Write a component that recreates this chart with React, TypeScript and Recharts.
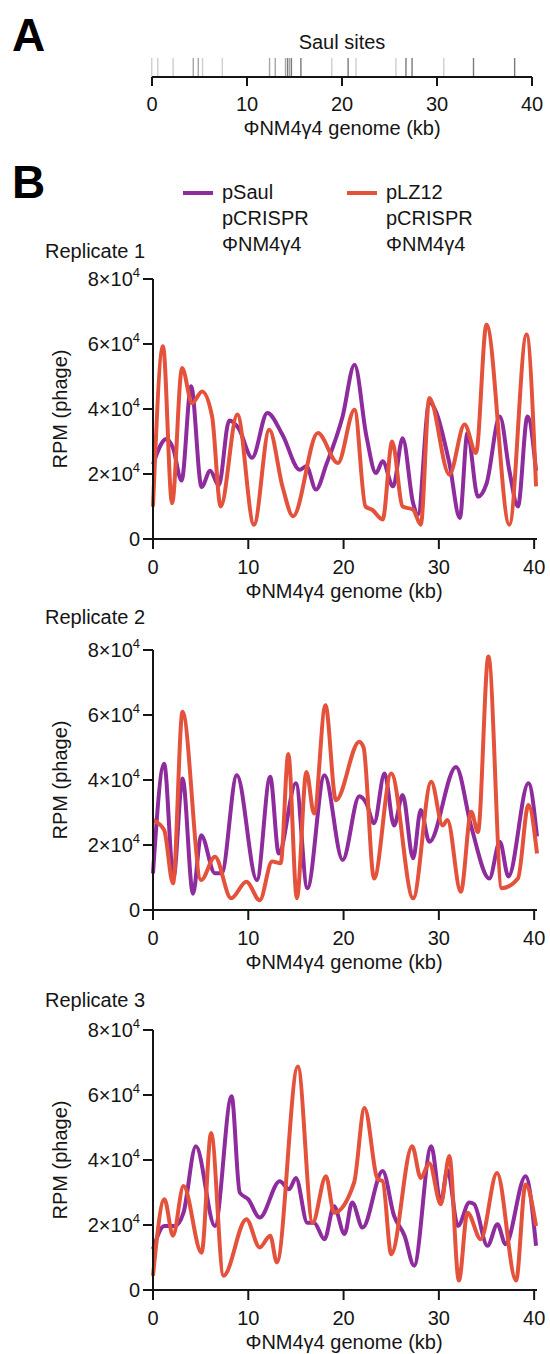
import React from 'react';
import { LineChart, Line, XAxis, YAxis, BarChart, Bar, Cell } from 'recharts';

// Saul target sites along the phage genome (kb) and how dark each mark is drawn (1 light .. 3 dark)
const siteKb = [0, 0.63, 2.25, 4.37, 4.9, 5.35, 7.43, 12.4, 13.0, 14.08, 14.3, 14.5, 14.7, 15.7, 18.95, 20.67, 21.5, 25.7, 26.76, 27.4, 30.74, 33.87, 38.2];
const siteWeight = [1, 1, 1, 2, 2, 1, 1, 2, 2, 2, 3, 2, 3, 3, 1, 3, 1, 1, 3, 3, 1, 3, 3];

const genomeTicks = [0, 10, 20, 30, 40];
const rpmTicks = [0, 20000, 40000, 60000, 80000];

// [kb, RPM]
const rep1Saul = [
  [0, 23000], [1.4, 30800], [2.1, 28000], [3.0, 18000], [4.0, 47000], [5.1, 16000], [6.0, 21000], [6.9, 16500],
  [8.0, 36500], [9.0, 34000], [10.4, 25000], [12.0, 38800], [13.6, 32000], [15.4, 21300], [16.1, 22400], [17.1, 15200],
  [18.2, 23000], [19.9, 37700], [21.15, 53600], [22.4, 31600], [23.4, 20300], [24.1, 23900], [25.2, 16200], [26.2, 31000],
  [27.3, 11000], [27.8, 7500], [29.0, 42000], [31.1, 23400], [32.2, 6500], [33.0, 32600], [34.1, 13000], [35.0, 17000],
  [36.4, 37700], [37.4, 21000], [38.3, 10000], [39.3, 37700], [40.2, 21000],
];
const rep1Lz = [
  [0, 10000], [1.05, 59300], [2.0, 11000], [3.05, 52600], [4.1, 41800], [5.15, 45400], [6.2, 37700], [7.1, 10000],
  [8.85, 38300], [10.6, 4400], [12.2, 33600], [13.6, 16000], [14.7, 7000], [17.3, 32600], [19.4, 23400], [21.15, 39800],
  [22.3, 10000], [23.0, 9000], [24.1, 6000], [25.1, 30000], [26.2, 10000], [27.3, 9000], [28.1, 4400], [29.0, 43400],
  [31.1, 19800], [32.7, 35200], [33.9, 26500], [35.0, 66000], [37.4, 4400], [39.2, 62900], [40.2, 16200],
];

const rep2Saul = [
  [0, 11300], [1.17, 45000], [2.15, 10000], [3.1, 40500], [4.2, 5000], [5.05, 23000], [6.5, 11300], [7.2, 11300],
  [8.8, 41500], [10.9, 9200], [12.3, 41000], [13.2, 17400], [15.0, 39000], [16.2, 6700], [18.0, 41500], [19.9, 15400],
  [21.65, 35000], [22.4, 32800], [23.2, 26700], [24.3, 42000], [25.3, 26000], [26.2, 35400], [27.3, 15900], [28.1, 30800],
  [29.0, 21000], [31.8, 44000], [33.4, 25600], [35.3, 9700], [36.4, 21000], [37.3, 10300], [39.4, 39000], [40.3, 22600],
];
const rep2Lz = [
  [0, 27700], [1.17, 24600], [2.1, 8200], [3.1, 61000], [5.05, 9200], [6.5, 16400], [8.2, 3600], [9.8, 8700],
  [11.2, 3000], [12.5, 14900], [13.4, 14400], [14.2, 48000], [15.1, 3600], [16.1, 42500], [16.9, 29700], [18.1, 63000],
  [19.2, 33800], [21.65, 51800], [22.1, 50000], [23.2, 9700], [25.0, 42000], [27.3, 3600], [29.2, 39500], [30.4, 26000],
  [30.9, 27700], [32.3, 5600], [33.4, 30200], [34.1, 24000], [35.2, 78000], [36.6, 6700], [38.3, 9700], [39.4, 32300],
  [40.3, 17400],
];

const rep3Saul = [
  [0, 12600], [1.2, 19700], [2.3, 19700], [3.2, 23800], [4.5, 44200], [6.5, 19700], [8.25, 59600], [9.1, 30000],
  [10.0, 27900], [11.2, 22300], [13.3, 33500], [14.3, 31000], [15.0, 34500], [16.2, 20700], [16.9, 20700], [18.0, 15600],
  [19.0, 25800], [20.1, 17200], [20.9, 26900], [22.0, 19200], [24.1, 36600], [25.3, 22800], [26.4, 16700], [27.4, 7500],
  [29.2, 44200], [30.2, 26900], [30.9, 37000], [32.0, 19700], [33.2, 26900], [33.7, 26400], [35.1, 13600], [36.15, 20200],
  [37.0, 14100], [39.1, 35000], [40.2, 13600],
];
const rep3Lz = [
  [0, 4400], [1.2, 27900], [2.1, 16700], [3.2, 32000], [5.1, 11500], [6.1, 48300], [7.4, 4400], [9.8, 21800],
  [11.2, 13100], [12.3, 16700], [13.0, 8500], [15.2, 68800], [16.75, 20700], [18.15, 35000], [19.0, 23800], [21.1, 33000],
  [22.2, 56000], [23.6, 34000], [24.1, 33500], [25.0, 11000], [27.2, 44200], [28.1, 34500], [29.0, 39000], [30.2, 26400],
  [31.1, 41200], [32.1, 2900], [33.0, 23800], [34.4, 15600], [36.1, 36000], [38.1, 2900], [39.1, 32500], [40.2, 19700],
];

const PURPLE = '#8e2b9d';
const RED = '#e4523b';
const INK = '#151515';
const FONT = 'Arial, "Liberation Sans", Helvetica, sans-serif';
const shade: Record<number, string> = { 1: '#cfcfcf', 2: '#a6a6a6', 3: '#7a7a7a' };

const toPoints = (rows: number[][]) => rows.map(([kb, rpm]) => ({ kb, rpm }));

const axisStyle = { stroke: INK, strokeWidth: 2 };

function RpmTick({ x, y, payload }: any) {
  const v = payload.value;
  if (v === 0) {
    return (
      <text x={x} y={y} dy={7} textAnchor="end" fontSize={20} fill={INK}>0</text>
    );
  }
  return (
    <text x={x} y={y} dy={7} textAnchor="end" fontSize={20} fill={INK}>
      {v / 10000}×10<tspan dy={-9} fontSize={13}>4</tspan>
    </text>
  );
}

const txt = (left: number, top: number, s: string, extra: React.CSSProperties = {}) => (
  <div style={{ position: 'absolute', left, top, fontSize: 20, lineHeight: '24px', color: INK, whiteSpace: 'nowrap', transform: 'translate(-50%, -50%)', ...extra }}>
    {s}
  </div>
);

function Replicate({ plotTop, label, labelY, saul, lz }: { plotTop: number; label: string; labelY: number; saul: number[][]; lz: number[][] }) {
  const mTop = 20;
  return (
    <>
      <div style={{ position: 'absolute', left: 45, top: labelY - 12, fontSize: 20, lineHeight: '24px', color: INK }}>{label}</div>
      <div style={{ position: 'absolute', left: 0, top: plotTop - mTop }}>
        <LineChart width={550} height={mTop + 260 + 40} margin={{ top: mTop, right: 13, bottom: 0, left: 0 }}>
          <XAxis
            dataKey="kb"
            type="number"
            domain={[0, 40.3]}
            ticks={genomeTicks}
            tickSize={10}
            tickMargin={11}
            height={40}
            axisLine={axisStyle}
            tickLine={axisStyle}
            tick={{ fill: INK, fontSize: 20 }}
            allowDuplicatedCategory={false}
          />
          <YAxis
            type="number"
            domain={[0, 80000]}
            ticks={rpmTicks}
            width={153}
            tickSize={10}
            tickMargin={3}
            axisLine={axisStyle}
            tickLine={axisStyle}
            tick={<RpmTick />}
          />
          <Line data={toPoints(saul)} dataKey="rpm" type="monotone" stroke={PURPLE} strokeWidth={4} dot={false} isAnimationActive={false} />
          <Line data={toPoints(lz)} dataKey="rpm" type="monotone" stroke={RED} strokeWidth={4} dot={false} isAnimationActive={false} />
        </LineChart>
      </div>
      {txt(60, plotTop + 130, 'RPM (phage)', { transform: 'translate(-50%, -50%) rotate(-90deg)' })}
      {txt(344, plotTop + 260 + 52, 'ΦNM4γ4 genome (kb)')}
    </>
  );
}

export default function App() {
  const sites = siteKb.map((kb, i) => ({ kb, h: 1, w: siteWeight[i] }));
  return (
    <div style={{ position: 'absolute', left: 0, top: 0, width: 550, height: 1354, background: '#fff', fontFamily: FONT, overflow: 'hidden' }}>
      <div style={{ position: 'absolute', left: 12, top: 10, fontSize: 46, fontWeight: 'bold', lineHeight: '50px', color: '#000' }}>A</div>
      {txt(342, 42, 'Saul sites')}
      <div style={{ position: 'absolute', left: 0, top: 0 }}>
        <BarChart width={550} height={122} data={sites} margin={{ top: 58, right: 18, bottom: 0, left: 152 }} barSize={1.4}>
          <XAxis
            dataKey="kb"
            type="number"
            domain={[0, 40]}
            ticks={genomeTicks}
            tickSize={9}
            tickMargin={11}
            height={45}
            axisLine={axisStyle}
            tickLine={axisStyle}
            tick={{ fill: INK, fontSize: 20 }}
          />
          <YAxis hide domain={[0, 1]} width={0} />
          <Bar dataKey="h" isAnimationActive={false}>
            {sites.map((s, i) => (
              <Cell key={i} fill={shade[s.w]} />
            ))}
          </Bar>
        </BarChart>
      </div>
      {txt(342, 128, 'ΦNM4γ4 genome (kb)')}

      <div style={{ position: 'absolute', left: 12, top: 157, fontSize: 46, fontWeight: 'bold', lineHeight: '50px', color: '#000' }}>B</div>
      <div style={{ position: 'absolute', left: 183, top: 191, width: 30, height: 4, background: PURPLE }} />
      <div style={{ position: 'absolute', left: 222, top: 179, fontSize: 20, lineHeight: '26px', color: INK }}>
        pSaul<br />pCRISPR<br />ΦNM4γ4
      </div>
      <div style={{ position: 'absolute', left: 347, top: 191, width: 30, height: 4, background: RED }} />
      <div style={{ position: 'absolute', left: 386, top: 179, fontSize: 20, lineHeight: '26px', color: INK }}>
        pLZ12<br />pCRISPR<br />ΦNM4γ4
      </div>

      <Replicate plotTop={279} label="Replicate 1" labelY={251} saul={rep1Saul} lz={rep1Lz} />
      <Replicate plotTop={650} label="Replicate 2" labelY={617} saul={rep2Saul} lz={rep2Lz} />
      <Replicate plotTop={1030} label="Replicate 3" labelY={1000} saul={rep3Saul} lz={rep3Lz} />
    </div>
  );
}
